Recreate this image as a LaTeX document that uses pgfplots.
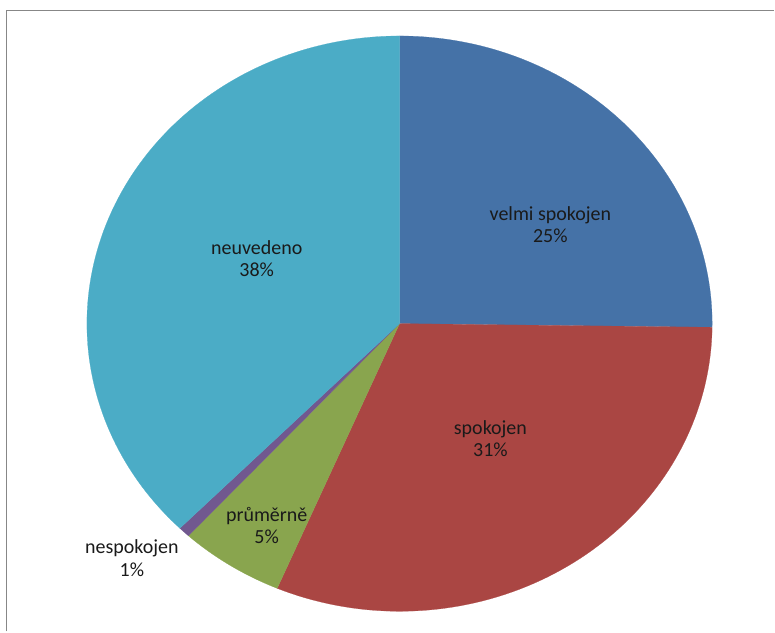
\documentclass[border=0pt]{standalone}
\usepackage{pgfplots}
\pgfplotsset{compat=1.18}
\usepackage{pgfplotstable}
\usepackage{fontspec}
\setmainfont{Carlito}
\definecolor{cA}{HTML}{4572A7}
\definecolor{cB}{HTML}{AA4643}
\definecolor{cC}{HTML}{89A54E}
\definecolor{cD}{HTML}{71588F}
\definecolor{cE}{HTML}{4BACC6}
\definecolor{frame}{HTML}{878787}
\definecolor{txt}{HTML}{1A1A1A}
\pgfplotstableread{
label value
velmi 25.2
spokojen 31.2
prumerne 5.4
nespokojen 0.6
neuvedeno 37.6
}\piedata
\begin{document}
\begin{tikzpicture}
\pgfplotstablegetelem{0}{value}\of\piedata \pgfmathsetmacro{\aA}{90-3.6*\pgfplotsretval}
\pgfplotstablegetelem{1}{value}\of\piedata \pgfmathsetmacro{\aB}{\aA-3.6*\pgfplotsretval}
\pgfplotstablegetelem{2}{value}\of\piedata \pgfmathsetmacro{\aC}{\aB-3.6*\pgfplotsretval}
\pgfplotstablegetelem{3}{value}\of\piedata \pgfmathsetmacro{\aD}{\aC-3.6*\pgfplotsretval}
\pgfplotstablegetelem{4}{value}\of\piedata \pgfmathsetmacro{\aE}{\aD-3.6*\pgfplotsretval}
\begin{axis}[
  scale only axis, width=775pt, height=632pt,
  xmin=0, xmax=775, ymin=0, ymax=632,
  hide axis, clip=false,
]
\addplot[fill=cA, draw=cA, line width=0.2pt, domain=\aA:90, samples=80, variable=\t]
  ({400+313*cos(t)}, {308+288*sin(t)}) -- (axis cs:400,308) -- cycle;
\addplot[fill=cB, draw=cB, line width=0.2pt, domain=\aB:\aA, samples=80, variable=\t]
  ({400+313*cos(t)}, {308+288*sin(t)}) -- (axis cs:400,308) -- cycle;
\addplot[fill=cC, draw=cC, line width=0.2pt, domain=\aC:\aB, samples=30, variable=\t]
  ({400+313*cos(t)}, {308+288*sin(t)}) -- (axis cs:400,308) -- cycle;
\addplot[fill=cD, draw=cD, line width=0.2pt, domain=\aD:\aC, samples=5, variable=\t]
  ({400+313*cos(t)}, {308+288*sin(t)}) -- (axis cs:400,308) -- cycle;
\addplot[fill=cE, draw=cE, line width=0.2pt, domain=\aE:\aD, samples=100, variable=\t]
  ({400+313*cos(t)}, {308+288*sin(t)}) -- (axis cs:400,308) -- cycle;
\draw[frame, line width=1.8pt] (axis cs:6.5,0) -- (axis cs:6.5,621.5) -- (axis cs:775,621.5);
\path (axis cs:0,0) rectangle (axis cs:775,632);
\tikzset{lbl/.style={text=txt, align=center, font=\fontsize{20}{22.5}\selectfont, inner sep=0pt}}
\node[lbl] at (axis cs:551,407) {velmi spokojen\\25\%};
\node[lbl] at (axis cs:491,193) {spokojen\\31\%};
\node[lbl] at (axis cs:267,106) {průměrně\\5\%};
\node[lbl] at (axis cs:132,73) {nespokojen\\1\%};
\node[lbl] at (axis cs:257,373) {neuvedeno\\38\%};
\end{axis}
\end{tikzpicture}
\end{document}
